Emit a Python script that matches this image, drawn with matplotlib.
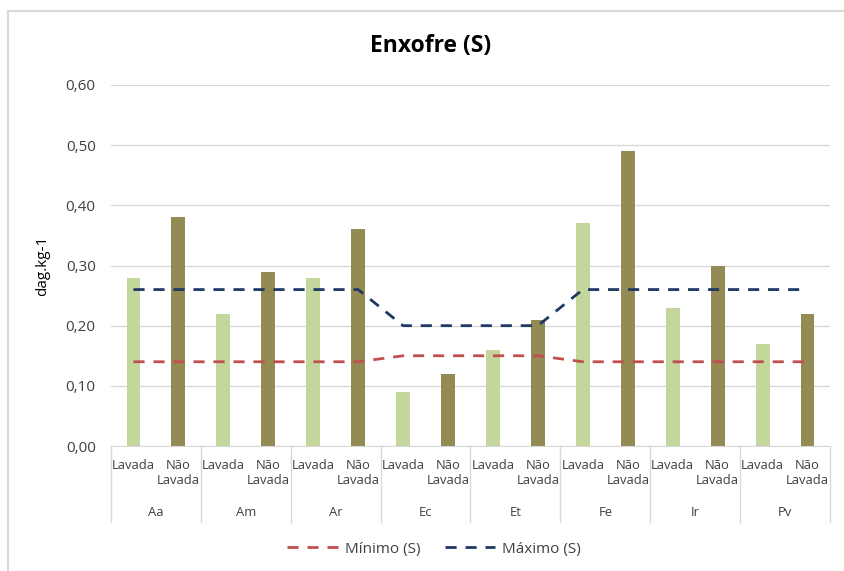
import numpy as np
import matplotlib
matplotlib.use("Agg")
import matplotlib.pyplot as plt
from matplotlib.lines import Line2D
from matplotlib.patches import Rectangle

plt.rcParams["font.family"] = ["Open Sans", "DejaVu Sans"]

# sulphur content per species, washed vs unwashed leaves
groups = ["Aa", "Am", "Ar", "Ec", "Et", "Fe", "Ir", "Pv"]
treatments = ["Lavada", "Não\nLavada"]
lavada = [0.28, 0.22, 0.28, 0.09, 0.16, 0.37, 0.23, 0.17]
nao_lavada = [0.38, 0.29, 0.36, 0.12, 0.21, 0.49, 0.30, 0.22]
minimo = [0.14, 0.14, 0.14, 0.14, 0.14, 0.14, 0.15, 0.15,
          0.15, 0.15, 0.14, 0.14, 0.14, 0.14, 0.14, 0.14]
maximo = [0.26, 0.26, 0.26, 0.26, 0.26, 0.26, 0.20, 0.20,
          0.20, 0.20, 0.26, 0.26, 0.26, 0.26, 0.26, 0.26]
yticks = [0.0, 0.1, 0.2, 0.3, 0.4, 0.5, 0.6]

W, H = 845, 571
fig = plt.figure(figsize=(W / 100, H / 100), dpi=100)
fig.patches.append(Rectangle((8 / W, -0.1), 1.2, 1.1 - 11 / H, transform=fig.transFigure,
                             fill=False, edgecolor="#D9D9D9", lw=1.5))

left, right, top, bottom = 111, 830, 85, 446
ax = fig.add_axes([left / W, 1 - bottom / H, (right - left) / W, (bottom - top) / H])

grey = "#D9D9D9"
text_col = "#404040"
dash = (4.0, 3.2)
n = len(groups) * 2
x = np.arange(n)
bar_vals = [v for pair in zip(lavada, nao_lavada) for v in pair]
bar_cols = ["#C3D69B", "#948A54"] * len(groups)
ax.bar(x, bar_vals, width=0.31, color=bar_cols, zorder=2)

ax.plot(x, minimo, color="#C0504D", lw=2, dashes=dash, zorder=3)
ax.plot(x, maximo, color="#1F3864", lw=2, dashes=dash, zorder=3)

ax.set_xlim(-0.5, n - 0.5)
ax.set_ylim(0, 0.6)
ax.set_yticks(yticks)
ax.set_yticklabels([f"{t:.2f}".replace(".", ",") for t in yticks], fontsize=11, color=text_col)
ax.tick_params(axis="y", length=0, pad=11)
ax.set_xticks([])
ax.grid(axis="y", color=grey, lw=1, zorder=0)
for s in ["top", "right", "left"]:
    ax.spines[s].set_visible(False)
ax.spines["bottom"].set_color(grey)

# two-level category axis
ph = bottom - top
def ay(py):
    return (bottom - py) / ph

tr = ax.get_xaxis_transform()
for g in range(len(groups) + 1):
    ax.plot([g * 2 - 0.5] * 2, [0, ay(522)], transform=tr, color=grey, lw=1, clip_on=False)
for i in range(n):
    ax.text(i, ay(459), treatments[i % 2], transform=tr, ha="center", va="top",
            fontsize=9.4, color=text_col, linespacing=1.15)
for g, name in enumerate(groups):
    ax.text(g * 2 + 0.5, ay(512), name, transform=tr, ha="center", va="center",
            fontsize=9.4, color=text_col)

ax.set_ylabel("dag.kg-1", fontsize=11, color="#000000", labelpad=11)
fig.text(431 / W, 1 - 46 / H, "Enxofre (S)", ha="center", va="center",
         fontsize=16.5, fontweight="bold")

handles = [Line2D([], [], color="#C0504D", lw=2, dashes=dash),
           Line2D([], [], color="#1F3864", lw=2, dashes=dash)]
fig.legend(handles, ["Mínimo (S)", "Máximo (S)"], loc="center",
           bbox_to_anchor=(434 / W, 1 - 549 / H), ncol=2, frameon=False,
           fontsize=11, handlelength=3.3, handletextpad=0.45, columnspacing=1.6,
           labelcolor=text_col)

fig.savefig("out.png", dpi=100)
